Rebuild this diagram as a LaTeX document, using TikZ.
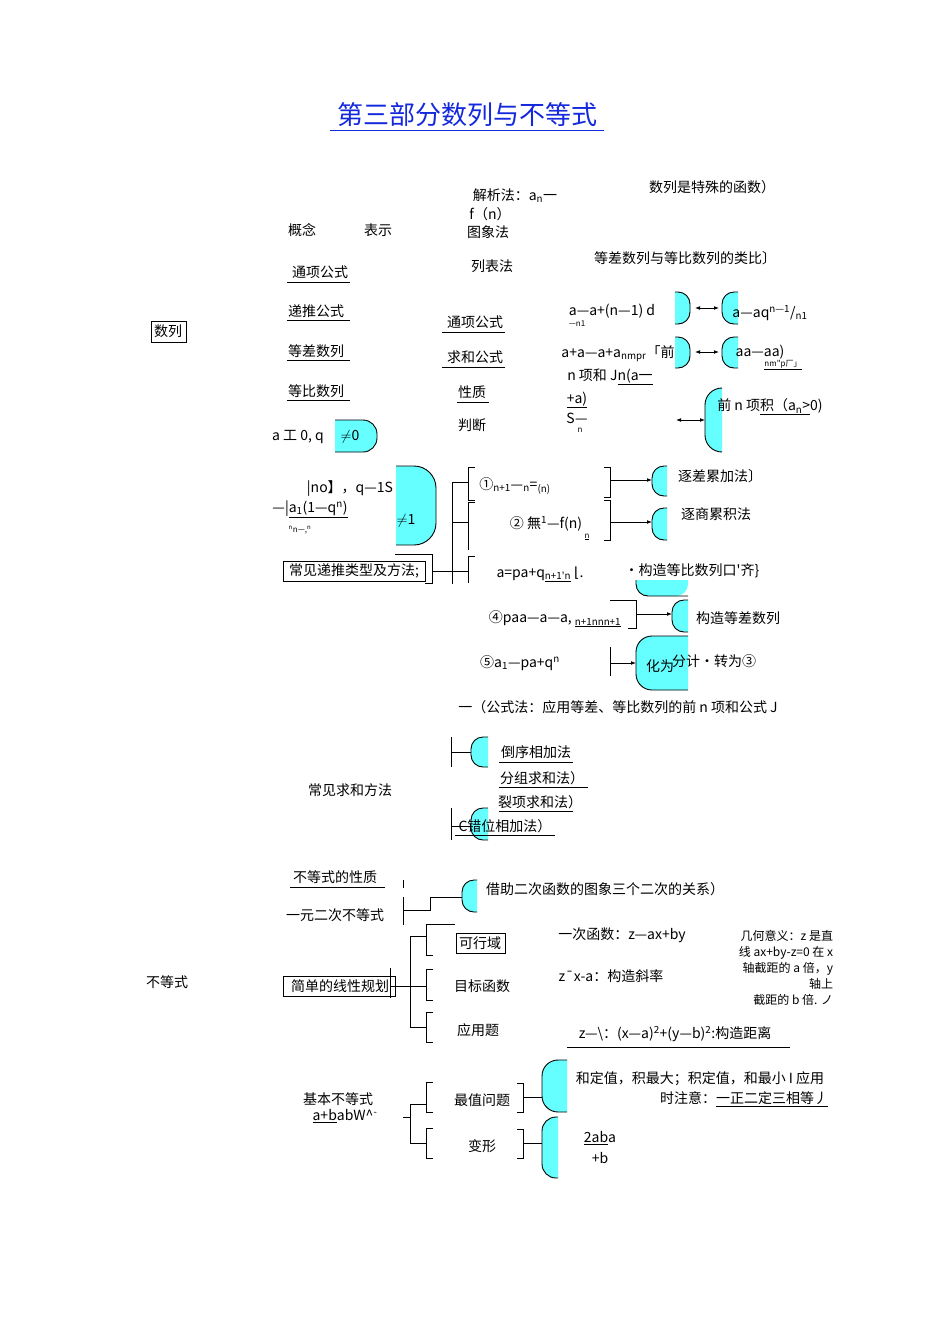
\documentclass[tikz,border=0pt]{standalone}
\usepackage{fontspec}
\setmainfont{Liberation Serif}
\newfontfamily\cjk{Noto Sans CJK SC}
\newfontfamily\djvfont{DejaVu Sans}
\usetikzlibrary{arrows.meta}
\definecolor{cy}{RGB}{102,255,255}
\definecolor{tb}{RGB}{20,40,220}
\tikzset{
 t/.style={font=\cjk\fontsize{14}{16}\selectfont,inner sep=1pt},
 ts/.style={font=\cjk\fontsize{12}{16}\selectfont,inner sep=1pt},
 tn/.style={font=\cjk\fontsize{8}{10}\selectfont,inner sep=0pt},
 ln/.style={line width=0.8pt},
 ar/.style={line width=0.8pt,-{Latex[length=5pt]}},
 arr/.style={line width=0.8pt,{Latex[length=5pt]}-{Latex[length=5pt]}},
 capst/.style={fill=cy,draw,line width=0.9pt}
}
\newcommand\capL[5]{\path[capst,rounded corners=#5] (#3,#2)--(#1,#2)--(#1,#4)--(#3,#4);}
\newcommand\capR[5]{\path[capst,rounded corners=#5] (#1,#2)--(#3,#2)--(#3,#4)--(#1,#4);}
\begin{document}
\begin{tikzpicture}[x=1pt,y=-1pt]
\useasboundingbox (0,0) rectangle (950,1318);
\fill[white] (0,0) rectangle (950,1318);
\node[font=\cjk\fontsize{26}{30}\selectfont,text=tb,inner sep=1pt] (title) at (467,115) {第三部分数列与不等式};
\draw[tb,line width=0.8pt] (330,130)--(604,130);
\node[t] (a1) at (712,187) {数列是特殊的函数）};
\node[t] (a2) at (515,196) {解析法：a\textsubscript{n}一};
\node[t] (a3) at (490,214) {f（n）};
\node[t] (a4) at (488,232) {图象法};
\node[t] (a5) at (302,230) {概念};
\node[t] (a6) at (378,230) {表示};
\node[t] (a7) at (492,266) {列表法};
\node[t] (a8) at (685,258) {等差数列与等比数列的类比〕};
\node[t] (sl) at (168,331) {数列};
\draw (151,321) rectangle (186,342);
\node[t] (b1) at (320,272) {通项公式}; \draw (287,282)--(350,282);
\node[t] (b2) at (316,311) {递推公式}; \draw (287,320)--(350,320);
\node[t] (b3) at (316,351) {等差数列}; \draw (287,360)--(350,360);
\node[t] (b4) at (316,391) {等比数列}; \draw (287,400)--(350,400);
\node[t] (b5) at (298,437) {a 工 0, q};
\capR{335}{420}{377}{452}{14}
\node[t] (b6) at (350,437) {$\neq$0};
\node[t] (c1) at (475,322) {通项公式}; \draw (442,332)--(505,332);
\node[t] (c2) at (475,357) {求和公式}; \draw (442,367)--(505,367);
\node[t] (c3) at (472,392) {性质}; \draw (457,402)--(489,402);
\node[t] (c4) at (472,425) {判断};
\node[t] (d1) at (612,311) {a—a+(n—1) d};
\node[tn] (d1s) at (577,324) {—n1};
\capR{675}{292}{690}{324}{12}
\capL{722}{292}{738}{324}{12}
\coordinate (e1) at (690,308); \coordinate (e2) at (722,308);
\draw[arr] ([xshift=5pt]e1)--([xshift=-3pt]e2);
\node[t] (d2) at (770,313) {a—aq\textsuperscript{n—1}/\textsubscript{n1}};
\node[t] (d3) at (618,354) {a+a—a+a\textsubscript{nmpr}「前};
\capR{675}{337}{690}{368}{12}
\capL{722}{337}{738}{368}{12}
\coordinate (e3) at (690,352); \coordinate (e4) at (722,352);
\draw[arr] ([xshift=5pt]e3)--([xshift=-3pt]e4);
\node[t] (d4) at (760,352) {aa—aa)};
\node[tn] (d4s) at (783,365) {\underline{nm"p厂」}};
\node[t] (d5) at (610,377) {n 项和 J\underline{n(a一}};
\node[t] (d6) at (577,400) {\underline{+a)}};
\node[t] (d7) at (577,418) {S—};
\node[tn] (d8) at (580,430) {n};
\capL{705}{388}{722}{452}{17}
\coordinate (e5) at (676,420); \coordinate (e6) at (705,420);
\draw[arr] (e5)--(e6);
\node[t] (d9) at (770,407) {前 n 项\underline{积（a\textsubscript{n}>}0)};
\capR{396}{466}{436}{545}{22}
\node[t] (f0) at (406,521) {$\neq$1};
\node[t] (f1) at (350,489) {|no】，q—1S};
\node[t] (f2) at (310,509) {—|\underline{a\textsubscript{1}(1—q\textsuperscript{n})}};
\node[tn] (f3) at (300,530) {\textsuperscript{n}n—,\textsuperscript{n}};
\node[t] (rec) at (354,571) {常见递推类型及方法;};
\draw (283,561) rectangle (425,581);
\draw[ln] (395,554)--(432,554)--(432,583)--(425,583);
\coordinate (g0) at (432,571); \coordinate (g1) at (452,571);
\draw[ln] (g0)--(g1);
\draw[ln] (468,482)--(452,482)--(452,584);
\draw[ln] (452,522)--(468,522);
\draw[ln] (452,571)--(468,571);
\draw[ln] (475,467)--(468,467)--(468,500)--(475,500);
\draw[ln] (475,502)--(468,502)--(468,550);
\draw[ln] (475,556)--(468,556)--(468,583);
\node[t] (h1) at (515,486) {①\textsubscript{n+1}—\textsubscript{n}=\textsubscript{(n)}};
\draw[ln] (604,467)--(610,467)--(610,497)--(604,497);
\capL{652}{466}{667}{496}{12}
\coordinate (i1) at (610,480); \coordinate (i2) at (652,480);
\draw[ar] (i1)--(i2);
\node[t] (h1r) at (720,476) {逐差累加法〕};
\node[t] (h2) at (546,524) {② 無\textsuperscript{1}—f(n)};
\node[tn] (h2s) at (587,537) {\underline{n}};
\draw[ln] (604,500)--(610,500)--(610,540)--(604,540);
\capL{652}{508}{667}{540}{12}
\coordinate (i3) at (610,522); \coordinate (i4) at (652,522);
\draw[ar] (i3)--(i4);
\node[t] (h2r) at (716,514) {逐商累积法};
\node[t] (h3) at (540,574) {a=pa+q\textsubscript{\underline{n+1'n}} {\djvfont ⌊}.};
\fill[cy] (636,580) [rounded corners=12]--(636,596)--(688,596)[sharp corners]--(688,580)--cycle;
\draw[line width=0.9pt] (636,580) [rounded corners=12]--(636,596)--(688,596);
\node[t] (h3r) at (692,571) {•构造等比数列口'齐\}};
\node[t] (h4) at (555,619) {④pa\textit{a—a—a,} \textsubscript{\underline{n+1nnn+1}}};
\draw[ln] (610,600)--(636,600)--(636,628)--(628,628);
\capL{672}{600}{688}{632}{12}
\coordinate (i5) at (636,614); \coordinate (i6) at (672,614);
\draw[ar] (i5)--(i6);
\node[t] (h4r) at (738,618) {构造等差数列};
\node[t] (h5) at (520,663) {⑤a\textsubscript{1}—\textit{pa}+q\textsuperscript{n}};
\draw[ln] (610,647)--(610,676);
\path[capst,rounded corners=16] (688,636)--(636,636)--(636,690)--(688,690);
\coordinate (i7) at (610,663); \coordinate (i8) at (636,663);
\draw[ar] (i7)--(i8);
\node[t] (h5a) at (660,666) {化为};
\node[t] (h5r) at (714,661) {分\textit{计}·转为③};
\node[t] (s0) at (618,707) {一（公式法：应用等差、等比数列的前 \textit{n} 项和公式 J};
\node[t] (s1) at (350,790) {常见求和方法};
\draw[ln] (451,737)--(451,767);
\capL{471}{737}{488}{767}{12}
\coordinate (j1) at (451,752); \coordinate (j2) at (471,752);
\draw[ln] (j1)--(j2);
\node[t] (s2) at (536,752) {倒序相加法}; \draw (499,762)--(573,762);
\node[t] (s3) at (542,778) {分组求和法）}; \draw (499,787)--(588,787);
\node[t] (s4) at (540,802) {裂项求和法）}; \draw (499,811)--(573,811);
\draw[ln] (451,808)--(451,840);
\capL{471}{808}{488}{840}{12}
\coordinate (j3) at (451,826); \coordinate (j4) at (471,826);
\draw[ln] (j3)--(j4);
\node[t] (s5) at (505,826) {C错位相加法）}; \draw (455,835)--(555,835);
\node[t] (ineq) at (167,982) {不等式};
\node[t] (k1) at (335,877) {不等式的性质}; \draw (290,887)--(385,887);
\node[t] (k2) at (335,915) {一元二次不等式};
\draw[ln] (403,880)--(403,888);
\draw[ln] (403,897)--(403,925);
\capL{462}{880}{477}{912}{12}
\coordinate (l1) at (403,910); \coordinate (l2) at (462,897);
\draw[ln] (l1)--(430,910)--(430,897)--(l2);
\node[t] (k2r) at (605,889) {借助二次函数的图象三个二次的关系）};
\node[t] (lp) at (340,986) {简单的线性规划};
\draw (283,976) rectangle (395,996);
\draw[ln] (390,968)--(390,998);
\coordinate (m0) at (390,986);
\draw[ln] (m0)--(410,986);
\draw[ln] (426,936)--(410,936)--(410,1027)--(426,1027);
\draw[ln] (410,986)--(426,986);
\draw[ln] (455,924)--(426,924)--(426,955)--(433,955);
\draw[ln] (433,969)--(426,969)--(426,1000)--(433,1000);
\draw[ln] (433,1012)--(426,1012)--(426,1042)--(433,1042);
\node[t] (m1) at (480,943) {可行域}; \draw (456,933) rectangle (505,953);
\node[t] (m2) at (482,986) {目标函数};
\node[t] (m3) at (478,1030) {应用题};
\node[t] (m1r) at (622,935) {一次函数：z—ax+by};
\node[t] (m2r) at (611,976) {z¯x-a：构造斜率};
\node[ts,align=right] (geo) at (786,968) {几何意义：z 是直\\线 ax+by-z=0 在 x\\轴截距的 \textit{a} 倍，y\\轴上\\截距的 b 倍. ノ};
\node[t] (m3r) at (675,1034) {z—\textbackslash：(x—a)\textsuperscript{2}+(y—b)\textsuperscript{2}:构造距离};
\draw (567,1047)--(790,1047);
\node[t] (n1) at (338,1099) {基本不等式};
\node[t] (n2) at (345,1116) {\underline{a+b}abW\textasciicircum\textsuperscript{-}};
\coordinate (o0) at (403,1117);
\draw[ln] (o0)--(410,1117);
\draw[ln] (426,1104)--(410,1104)--(410,1143)--(426,1143);
\draw[ln] (433,1082)--(426,1082)--(426,1112)--(433,1112);
\draw[ln] (433,1128)--(426,1128)--(426,1158)--(433,1158);
\node[t] (o1) at (482,1100) {最值问题};
\node[t] (o2) at (482,1146) {变形};
\draw[ln] (517,1083)--(523,1083)--(523,1112)--(517,1112);
\draw[ln] (517,1129)--(523,1129)--(523,1158)--(517,1158);
\capL{542}{1060}{567}{1112}{16}
\capL{542}{1117}{558}{1178}{14}
\coordinate (p1) at (523,1097); \coordinate (p2) at (542,1097);
\draw[ln] (p1)--(p2);
\coordinate (p3) at (523,1143); \coordinate (p4) at (542,1143);
\draw[ln] (p3)--(p4);
\node[t] (o1r) at (700,1079) {和定值，积最大；积定值，和最小 I 应用};
\node[t] (o1s) at (744,1099) {时注意：\underline{一正二定三相等丿}};
\node[t] (o2r) at (600,1138) {\underline{\textit{2ab}}a};
\node[t] (o2s) at (600,1158) {+b};
\end{tikzpicture}
\end{document}
